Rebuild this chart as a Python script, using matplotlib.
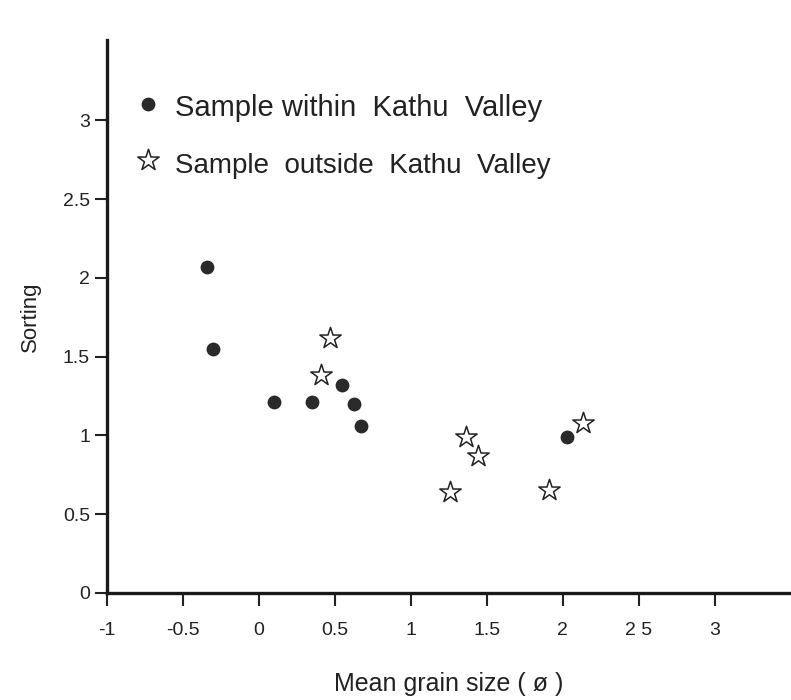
import matplotlib
matplotlib.use("Agg")
import numpy as np
import matplotlib.pyplot as plt

plt.rcParams['font.family'] = ['Liberation Sans Narrow', 'Liberation Sans', 'DejaVu Sans']

# samples within Kathu Valley (filled circles)
within_x = [-0.34, -0.30, 0.10, 0.35, 0.55, 0.625, 0.67, 2.03]
within_y = [2.07, 1.55, 1.21, 1.21, 1.32, 1.20, 1.06, 0.99]

# samples outside Kathu Valley (open stars)
outside_x = [0.47, 0.41, 1.36, 1.44, 1.26, 1.91, 2.13]
outside_y = [1.62, 1.38, 0.99, 0.87, 0.64, 0.65, 1.08]

xticks = [-1, -0.5, 0, 0.5, 1, 1.5, 2, 2.5, 3]
xticklabels = ['-1', '-0.5', '0', '0.5', '1', '1.5', '2', '2 5', '3']
yticks = [0, 0.5, 1, 1.5, 2, 2.5, 3]
yticklabels = ['0', '0.5', '1', '1.5', '2', '2.5', '3']

fig = plt.figure(figsize=(7.91, 7.0), dpi=100)
ax = fig.add_axes([0.135, 0.153, 0.865, 0.79])

ax.scatter(within_x, within_y, s=80, c='#2a2a2a', edgecolors='#2a2a2a', zorder=3)
ax.scatter(outside_x, outside_y, s=260, marker='*', facecolors='white',
           edgecolors='#222222', linewidths=1.1, zorder=3)

ax.set_xlim(-1, 3.5)
ax.set_ylim(0, 3.51)
ax.set_xticks(xticks)
ax.set_xticklabels(xticklabels)
ax.set_yticks(yticks)
ax.set_yticklabels(yticklabels)
ax.tick_params(direction='out', length=9, width=1.5, labelsize=14, colors='#222222')
ax.tick_params(axis='x', pad=12)
ax.tick_params(axis='y', pad=3)

for side in ['top', 'right']:
    ax.spines[side].set_visible(False)
for side in ['left', 'bottom']:
    ax.spines[side].set_linewidth(2.4)
    ax.spines[side].set_color('#1a1a1a')

ax.set_xlabel('Mean grain size ( ø )', fontsize=18, color='#222222', labelpad=24)
ax.set_ylabel('Sorting', fontsize=16, color='#222222', labelpad=16)

# hand-placed legend
ax.scatter([-0.73], [3.10], s=80, c='#2a2a2a', clip_on=False)
ax.text(-0.55, 3.08, 'Sample within  Kathu  Valley', fontsize=21, va='center', color='#222222')
ax.scatter([-0.73], [2.75], s=260, marker='*', facecolors='white',
           edgecolors='#222222', linewidths=1.1)
ax.text(-0.55, 2.71, 'Sample  outside  Kathu  Valley', fontsize=20, va='center', color='#222222')

fig.savefig('out.png', dpi=100)
